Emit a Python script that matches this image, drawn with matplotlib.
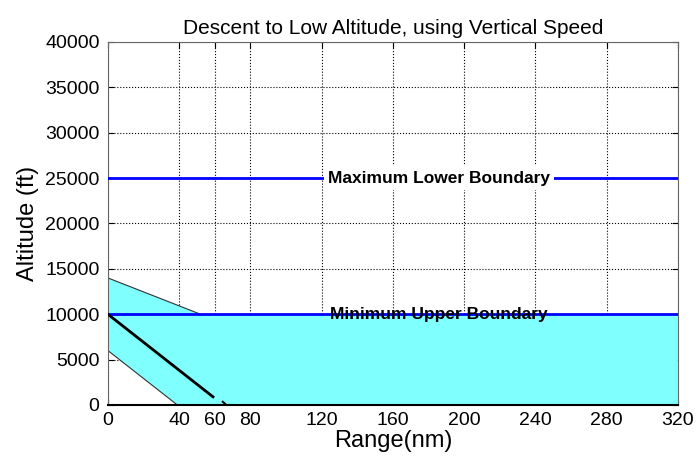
import numpy as np
import matplotlib.pyplot as plt

plt.rcParams['font.family'] = ['Liberation Sans', 'DejaVu Sans']

# descent corridor (shaded)
upper_x = [0, 52, 320]
upper_y = [14000, 10000, 10000]
lower_x = [0, 39, 320]
lower_y = [6000, 0, 0]

# descent profile using vertical speed
path_x = [0, 59]
path_y = [10000, 900]
tail_x = [64.5, 66.5]
tail_y = [350, 0]

max_lower = 25000
min_upper = 10000

xticks = [0, 40, 60, 80, 120, 160, 200, 240, 280, 320]
yticks = np.arange(0, 40001, 5000)

fig = plt.figure(figsize=(6.96, 4.61), dpi=100)
ax = fig.add_axes([0.155, 0.1215, 0.819, 0.7875])

poly_x = upper_x + lower_x[::-1]
poly_y = upper_y + lower_y[::-1]
ax.fill(poly_x, poly_y, facecolor='#80ffff', edgecolor='none', zorder=1)
ax.plot(upper_x[:2], upper_y[:2], color='#333333', lw=0.8, zorder=2)
ax.plot(lower_x[:2], lower_y[:2], color='#333333', lw=0.8, zorder=2)

ax.axhline(max_lower, color='#0000ff', lw=2, zorder=3)
ax.axhline(min_upper, color='#0000ff', lw=2, zorder=3)

ax.plot(path_x, path_y, color='black', lw=2, zorder=4)
ax.plot(tail_x, tail_y, color='black', lw=1.5, zorder=4)

ax.text(186, max_lower, 'Maximum Lower Boundary', ha='center', va='center',
        fontsize=12.5, fontweight='bold',
        bbox=dict(facecolor='white', edgecolor='none', pad=3), zorder=5)
ax.text(186, min_upper, 'Minimum Upper Boundary', ha='center', va='center',
        fontsize=12.5, fontweight='bold', zorder=5)

ax.set_xlim(0, 320)
ax.set_ylim(0, 40000)
ax.set_xticks(xticks)
ax.set_yticks(yticks)
ax.tick_params(labelsize=14, direction='in', top=True, right=True, length=4)
ax.tick_params(axis='x', pad=5)
ax.tick_params(axis='y', pad=6)
ax.grid(True, color='black', linestyle=':', linewidth=0.8)
ax.set_axisbelow(True)
for s in ax.spines.values():
    s.set_color('#666666')
ax.spines['bottom'].set_color('black')
ax.spines['bottom'].set_linewidth(1.5)

ax.set_xlabel('Range(nm)', fontsize=17, labelpad=1)
ax.set_ylabel('Altitude (ft)', fontsize=17, labelpad=4)
ax.set_title('Descent to Low Altitude, using Vertical Speed', fontsize=15, pad=6)

fig.savefig('out.png', dpi=100)
